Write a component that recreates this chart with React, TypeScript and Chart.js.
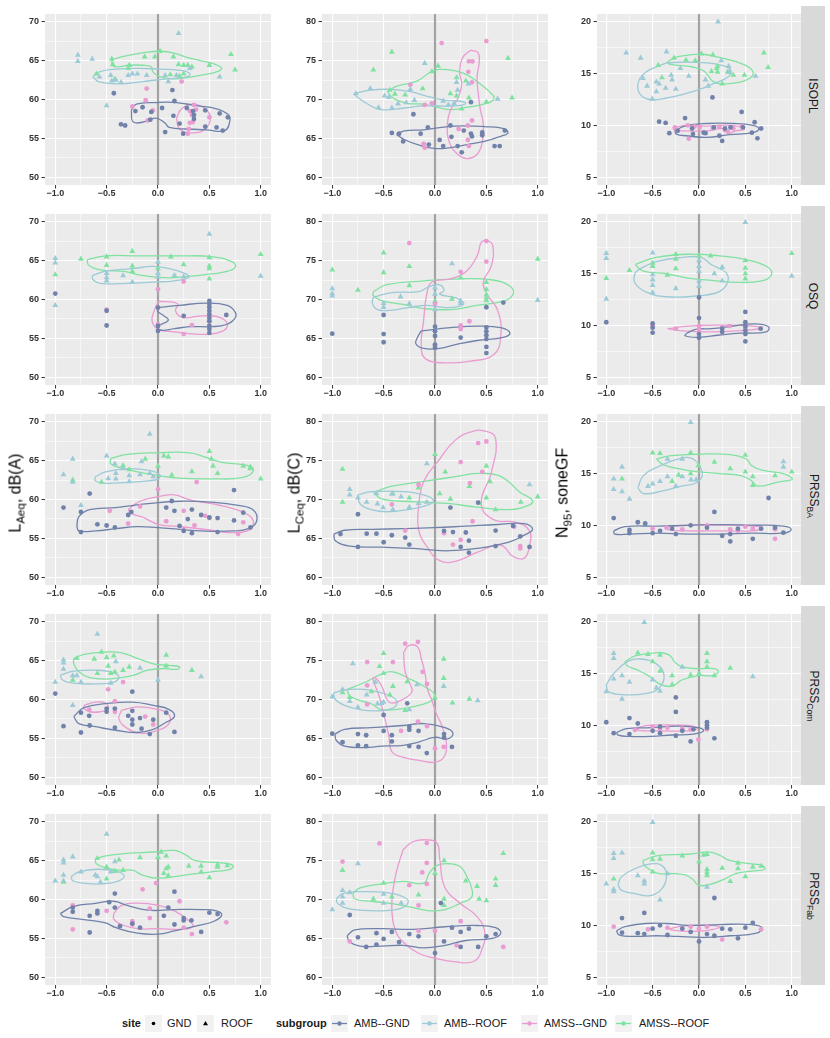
import { useEffect, useRef } from 'react';
import Chart from 'chart.js/auto';

type Pt = [number, number];

// legend / facet labels
const subgroups = ['AMB--GND', 'AMB--ROOF', 'AMSS--GND', 'AMSS--ROOF'];
const subgroupColors = ['#7182AA', '#9CCAD6', '#EA9BD1', '#80E2A1'];
const sites = ['GND', 'ROOF'];
const locations = [
  { base: 'ISOPL', sub: '' },
  { base: 'OSQ', sub: '' },
  { base: 'PRSS', sub: 'BA' },
  { base: 'PRSS', sub: 'Com' },
  { base: 'PRSS', sub: 'Fab' },
];
const measureTitles = [
  { base: 'L', sub: 'Aeq', rest: ', dB(A)' },
  { base: 'L', sub: 'Ceq', rest: ', dB(C)' },
  { base: 'N', sub: '95', rest: ', soneGF' },
];

// ticks and ranges
const xTicks = [-1, -0.75, -0.5, -0.25, 0, 0.25, 0.5, 0.75, 1];
const laTicks = [50, 52.5, 55, 57.5, 60, 62.5, 65, 67.5, 70];
const lcTicks = [60, 62.5, 65, 67.5, 70, 72.5, 75, 77.5, 80];
const nTicks = [5, 7.5, 10, 12.5, 15, 17.5, 20];
const yTickSets = [laTicks, lcTicks, nTicks];
const yRanges: Pt[] = [[49, 71], [59, 81], [4.25, 20.75]];
const xRange: Pt = [-1.1, 1.1];

// ---------- ISOPL ----------
// order in each panel: AMB--GND, AMB--ROOF, AMSS--GND, AMSS--ROOF
const isoplLaPts: Pt[][] = [
  [[-0.43,60.8],[-0.36,56.8],[-0.32,56.65],[-0.22,58.5],[-0.15,59.0],[-0.065,58.4],[-0.075,57.4],[0.04,58.9],[0.07,55.8],[0.14,61.2],[0.15,57.9],[0.16,59.8],[0.21,56.9],[0.245,55.6],[0.28,58.9],[0.34,58.5],[0.35,58.0],[0.35,57.5],[0.46,58.6],[0.46,56.5],[0.57,56.4],[0.6,58.2],[0.63,56.0],[0.68,57.7]],
  [[-0.78,65.7],[-0.78,64.9],[-0.64,65.2],[-0.57,62.9],[-0.5,59.2],[-0.46,63.1],[-0.45,62.4],[-0.41,62.5],[-0.36,62.2],[-0.29,63.1],[-0.25,63.3],[-0.2,63.3],[-0.11,63.1],[0.07,63.1],[0.1,62.3],[0.18,63.1],[0.2,68.5],[0.31,64.0],[0.6,62.9]],
  [[-0.25,59.1],[-0.11,61.4],[-0.12,59.9],[-0.1,57.3],[-0.05,58.6],[0.23,62.3],[0.31,58.5],[0.33,58.0],[0.35,59.3],[0.31,57.0],[0.3,56.2],[0.29,55.6],[0.34,57.1],[0.37,58.7],[0.5,57.7]],
  [[-0.6,63.3],[-0.45,65.2],[-0.44,64.5],[-0.42,62.6],[-0.29,64.0],[-0.28,64.4],[-0.13,65.5],[-0.03,65.5],[0.02,66.2],[0.12,63.2],[0.15,65.5],[0.2,64.5],[0.21,63.0],[0.25,63.3],[0.25,64.4],[0.29,64.4],[0.33,64.2],[0.5,64.4],[0.71,65.8],[0.75,63.8]],
];
const isoplLaRings: Pt[][][] = [
  [[[-0.26,58.6],[-0.21,59.4],[-0.02,59.6],[0.18,59.6],[0.37,59.2],[0.57,58.8],[0.68,58.1],[0.7,57.3],[0.65,56.0],[0.47,56.1],[0.28,56.2],[0.11,56.4],[0.065,57.0],[-0.02,57.6],[-0.11,57.2],[-0.24,57.1]]],
  [[[-0.635,62.9],[-0.57,63.55],[-0.41,63.9],[-0.18,64.0],[0.02,63.9],[0.21,63.75],[0.31,63.35],[0.28,62.9],[0.08,62.65],[-0.15,62.3],[-0.37,62.0],[-0.57,62.25]]],
  [[[0.18,57.6],[0.23,58.8],[0.34,59.4],[0.46,58.8],[0.51,57.6],[0.46,56.2],[0.34,55.7],[0.21,56.2]]],
  [[[-0.44,65.2],[-0.31,65.6],[-0.15,66.0],[0.02,66.2],[0.15,66.0],[0.28,65.4],[0.41,65.0],[0.54,64.6],[0.62,64.0],[0.57,63.55],[0.41,63.1],[0.28,62.8],[0.15,62.65],[0.02,62.9],[-0.05,63.55],[-0.065,64.2],[-0.15,64.4],[-0.28,64.4],[-0.41,64.2],[-0.45,64.6]]],
];
const isoplLcPts: Pt[][] = [
  [[-0.42,65.7],[-0.35,65.6],[-0.31,64.6],[-0.21,68.1],[-0.14,65.6],[-0.07,66.4],[-0.06,64.2],[0.045,64.8],[0.08,64.0],[0.15,66.65],[0.16,65.2],[0.22,64.0],[0.26,63.2],[0.28,66.0],[0.35,65.6],[0.36,65.25],[0.35,69.65],[0.46,65.75],[0.46,65.4],[0.58,64.0],[0.63,64.0],[0.68,66.0]],
  [[-0.77,70.76],[-0.63,71.4],[-0.55,68.95],[-0.49,70.47],[-0.45,70.27],[-0.42,68.9],[-0.36,69.45],[-0.28,69.6],[-0.24,71.3],[-0.2,69.9],[-0.1,74.66],[0.08,69.8],[0.13,69.3],[0.185,69.5],[0.21,72.2],[0.22,71.2],[0.325,72.0],[0.61,70.06]],
  [[0.065,77.25],[0.5,77.5],[0.33,74.9],[0.365,74.9],[0.325,73.55],[0.36,72.2],[-0.24,71.9],[-0.1,69.3],[-0.03,69.5],[0.36,67.3],[0.23,66.2],[0.32,66.65],[0.32,64.8],[0.33,64.0],[-0.11,64.3],[-0.1,63.8],[0.46,65.5]],
  [[-0.42,76.1],[-0.6,73.8],[-0.44,71.2],[-0.39,70.7],[-0.29,70.6],[-0.12,71.4],[-0.03,73.6],[0.03,74.3],[0.15,70.76],[0.21,72.8],[0.21,70.47],[0.26,68.8],[0.3,72.4],[0.33,70.2],[0.5,69.7],[0.71,75.3],[0.75,70.2]],
];
const isoplLcRings: Pt[][][] = [
  [[[-0.375,65.5],[-0.3,65.95],[-0.11,66.1],[0.09,66.45],[0.28,66.6],[0.48,66.5],[0.67,66.25],[0.71,65.7],[0.64,65.26],[0.48,64.6],[0.315,64.2],[0.15,63.8],[-0.01,63.7],[-0.17,64.2],[-0.3,64.85]]],
  [[[-0.79,70.76],[-0.63,71.2],[-0.43,71.3],[-0.24,71.0],[-0.075,70.4],[0.09,69.9],[0.23,69.8],[0.3,69.5],[0.23,69.2],[0.09,69.15],[-0.11,69.2],[-0.3,68.9],[-0.53,68.7],[-0.66,69.45],[-0.76,70.35]]],
  [[[0.35,76.35],[0.27,75.4],[0.24,73.55],[0.26,71.9],[0.22,70.06],[0.15,68.6],[0.12,66.8],[0.14,64.5],[0.22,62.95],[0.315,62.4],[0.41,62.95],[0.46,64.5],[0.47,66.8],[0.44,68.8],[0.42,70.9],[0.41,72.9],[0.43,74.8],[0.42,76.0]]],
  [[[-0.465,71.0],[-0.37,71.7],[-0.17,72.4],[-0.03,73.6],[0.12,73.84],[0.28,73.35],[0.43,72.1],[0.53,71.0],[0.575,70.1],[0.49,69.45],[0.315,69.0],[0.15,68.7],[0.02,69.0],[-0.11,69.4],[-0.27,69.5],[-0.4,70.1]]],
];
const isoplNPts: Pt[][] = [
  [[-0.43,10.36],[-0.36,10.24],[-0.32,9.25],[-0.23,9.47],[-0.15,10.7],[-0.065,9.16],[-0.075,9.7],[0.05,9.3],[0.07,9.25],[0.145,12.7],[0.16,9.8],[0.22,9.0],[0.25,8.5],[0.28,9.7],[0.34,9.8],[0.46,11.3],[0.475,9.8],[0.57,9.3],[0.6,10.3],[0.67,9.7],[0.63,8.75]],
  [[0.205,20.0],[-0.785,17.0],[-0.63,16.5],[-0.35,17.1],[-0.605,14.55],[-0.56,13.8],[-0.505,12.55],[-0.46,13.25],[-0.46,14.2],[-0.43,14.0],[-0.36,13.6],[-0.3,14.85],[-0.29,14.4],[-0.25,13.5],[-0.2,15.5],[-0.11,14.75],[0.07,14.4],[0.1,13.8],[0.24,16.25],[0.32,15.7],[0.33,15.15],[0.61,14.75]],
  [[-0.26,9.8],[-0.25,9.6],[-0.11,8.7],[-0.12,10.0],[-0.05,9.9],[0.007,9.8],[0.15,9.7],[0.22,9.85],[0.28,9.55],[0.31,9.4],[0.37,9.7],[0.46,9.9]],
  [[-0.44,15.8],[-0.4,14.6],[-0.27,16.5],[-0.14,16.3],[-0.04,16.25],[0.025,16.9],[0.135,15.2],[0.15,16.8],[0.19,15.5],[0.2,15.7],[0.2,15.15],[0.25,14.0],[0.31,15.15],[0.37,14.85],[0.49,14.85],[0.7,17.0],[0.745,15.6]],
];
const isoplNRings: Pt[][][] = [
  [[[-0.26,9.47],[-0.155,9.93],[0.08,10.18],[0.37,10.18],[0.58,10.0],[0.645,9.68],[0.58,9.31],[0.33,9.1],[0.08,8.85],[-0.14,9.0],[-0.245,9.16]]],
  [[[-0.35,16.03],[-0.14,16.1],[0.08,16.03],[0.22,15.84],[0.33,15.47],[0.34,14.95],[0.28,14.49],[0.15,14.0],[0.007,13.47],[-0.17,13.0],[-0.35,12.64],[-0.505,12.45],[-0.61,12.76],[-0.66,13.56],[-0.64,14.49],[-0.57,15.16],[-0.46,15.63]]],
  [[[-0.28,9.78],[-0.14,10.0],[0.08,9.93],[0.295,10.02],[0.44,9.87],[0.49,9.62],[0.4,9.47],[0.31,9.25],[0.26,9.68],[0.08,9.47],[-0.14,9.47],[-0.26,9.53]]],
  [[[-0.345,16.09],[-0.26,16.55],[-0.12,16.77],[0.04,16.86],[0.22,16.55],[0.4,16.15],[0.55,15.53],[0.58,14.86],[0.49,14.3],[0.35,14.06],[0.24,14.0],[0.15,14.24],[0.1,14.8],[0.04,15.32],[-0.065,15.63],[-0.21,15.78],[-0.32,15.9]]],
];

// ---------- OSQ ----------
const osqLaPts: Pt[][] = [
  [[-1,60.76],[-0.5,58.55],[-0.5,56.65],[0,58.95],[0,56.6],[0,55.95],[0.25,57.9],[0.5,59.8],[0.5,59.4],[0.5,59.0],[0.5,58.55],[0.5,58.1],[0.5,57.6],[0.5,57.2],[0.5,56.6],[0.5,56.2],[0.5,55.7],[0.665,58.0]],
  [[-1,65.28],[-1,64.7],[-1,59.24],[-0.5,62.8],[-0.5,62.4],[-0.5,63.35],[-0.34,63.06],[-0.25,62.24],[0,64.8],[0,63.35],[0,62.9],[0.16,63.1],[0.25,62.9],[0.5,68.4],[1,63.0]],
  [[-0.5,58.7],[0,61.3],[0,56.8],[0.25,62.3],[0.25,55.55],[0.33,56.7],[0.5,57.8],[0.5,57.2],[0.5,56.6]],
  [[-1,63.2],[-0.75,65.2],[-0.5,65.5],[-0.5,64.4],[-0.25,66.2],[-0.25,64.3],[-0.25,63.6],[0,63.96],[0.125,65.5],[0.25,64.5],[0.5,65.4],[0.5,64.3],[0.5,63.96],[0.5,62.65],[1,65.8]],
];
const osqLaRings: Pt[][][] = [
  [[[0.005,58.95],[0.21,59.24],[0.47,59.53],[0.675,59.24],[0.75,58.4],[0.75,57.6],[0.665,56.78],[0.52,56.5],[0.31,56.5],[0.16,56.24],[0.03,56.04],[-0.005,56.5],[0.1,57.3],[0.057,57.9],[-0.005,58.5]]],
  [[[-0.64,63.06],[-0.51,63.63],[-0.25,63.96],[-0.05,64.25],[0.11,63.96],[0.26,63.35],[0.3,62.85],[0.16,62.4],[-0.05,62.24],[-0.3,62.07],[-0.56,62.07],[-0.63,62.5]]],
  [[[0.005,59.77],[0.19,59.45],[0.17,58.54],[0.24,57.68],[0.44,57.9],[0.62,57.6],[0.675,56.5],[0.57,55.67],[0.37,55.55],[0.16,55.83],[0.005,56.16],[-0.057,57.18],[-0.036,58.6]]],
  [[[-0.69,65.1],[-0.51,65.6],[-0.2,65.6],[0.21,65.6],[0.52,65.5],[0.73,64.8],[0.75,64.1],[0.65,63.55],[0.42,63.14],[0.16,62.8],[0,62.85],[-0.175,63.14],[-0.33,63.6],[-0.56,63.8],[-0.675,64.4]]],
];
const osqLcPts: Pt[][] = [
  [[-1,65.6],[-0.5,68.0],[-0.5,65.55],[-0.5,64.5],[0,66.5],[0,65.9],[0,65.3],[0,64.2],[0,63.8],[0.25,65.1],[0.5,66.4],[0.5,65.9],[0.5,65.4],[0.5,64.9],[0.5,63.9],[0.5,63.1],[0.665,69.6],[0.5,69.0]],
  [[-1,71.4],[-1,70.76],[-1,70.47],[-0.5,69.5],[-0.5,69.0],[-0.25,69.45],[-0.335,70.35],[0,71.5],[0,70.7],[0,68.7],[0.165,74.6],[0.25,69.5],[0.25,69.8],[1,69.9]],
  [[-0.25,77.25],[0.5,77.5],[0.5,74.87],[0.25,73.55],[0.335,67.2],[0.25,66.65],[0.25,66.2],[0,69.45],[0,64.0]],
  [[-1,73.8],[-0.75,71.2],[-0.5,76.0],[-0.5,73.47],[-0.25,74.25],[-0.25,71.8],[0,69.77],[0.165,70.06],[0.25,72.8],[0.5,72.2],[0.5,71.3],[0.5,70.6],[0.5,70.2],[0.5,69.85],[1,75.2]],
];
const osqLcRings: Pt[][][] = [
  [[[-0.134,65.95],[0.15,66.37],[0.41,66.57],[0.64,66.37],[0.73,65.67],[0.665,65.13],[0.41,64.72],[0.2,64.19],[0.046,63.7],[-0.11,63.7],[-0.186,64.3],[-0.17,65.13]]],
  [[[-0.6,70.27],[-0.42,70.88],[-0.16,71.0],[-0.067,71.58],[0.036,71.9],[0.088,71.17],[0.046,70.68],[0.2,70.2],[0.28,69.5],[0.23,69.1],[0.1,68.95],[-0.08,69.24],[-0.26,68.95],[-0.44,68.6],[-0.56,68.7],[-0.61,69.5]]],
  [[[0.5,77.66],[0.56,77.04],[0.55,74.37],[0.47,72.24],[0.51,70.6],[0.61,68.6],[0.64,65.3],[0.57,62.9],[0.33,62.05],[0.1,61.85],[-0.08,62.26],[-0.134,63.7],[-0.11,67.4],[-0.08,70.68],[-0.03,72.24],[0.15,72.65],[0.3,73.55],[0.41,75.6],[0.45,77.33]]],
  [[[-0.6,71.0],[-0.47,71.9],[-0.11,72.4],[0.25,72.65],[0.56,72.5],[0.73,71.7],[0.76,70.68],[0.665,69.77],[0.41,69.24],[0.15,68.7],[-0.11,68.83],[-0.31,69.36],[-0.52,69.86],[-0.6,70.47]]],
];
const osqNPts: Pt[][] = [
  [[-1,10.3],[-0.5,10.18],[-0.5,9.78],[-0.5,9.3],[0,10.7],[0,12.7],[0,9.16],[0,8.8],[0.25,9.68],[0.25,9.37],[0.5,11.3],[0.5,10.3],[0.5,9.9],[0.5,9.5],[0.5,9.16],[0.5,8.45],[0.665,9.68]],
  [[-1,16.95],[-1,16.46],[-1,12.55],[-0.5,17.0],[-0.5,14.9],[-0.5,14.4],[-0.5,13.87],[-0.5,13.16],[-0.25,13.56],[0,16.25],[0,15.7],[0,15.2],[0,14.3],[0,13.8],[0.25,15.6],[0.166,15.0],[0.25,14.3],[0.5,19.94],[1,14.76]],
  [[-0.5,10.0],[-0.25,9.68],[0,9.93],[0,9.62],[0.33,9.93],[0.5,9.68],[0.25,9.8]],
  [[-1,14.55],[-0.75,15.3],[-0.5,16.0],[-0.5,15.7],[-0.34,14.85],[-0.25,16.86],[-0.25,16.4],[-0.25,15.47],[0,16.7],[0.125,16.7],[0.25,15.6],[0.5,16.25],[0.5,15.53],[0.5,15.0],[0.5,14.5],[1,16.95]],
];
const osqNRings: Pt[][][] = [
  [[[-0.13,9.25],[-0.034,9.62],[0.137,9.68],[0.366,9.93],[0.594,10.14],[0.75,9.87],[0.726,9.37],[0.45,9.25],[0.22,9.07],[-0.006,8.85],[-0.15,9.0]]],
  [[[-0.635,15.47],[-0.46,16.15],[-0.18,16.55],[0.023,16.55],[0.137,15.84],[0.29,15.1],[0.31,14.18],[0.22,13.26],[-0.006,12.86],[-0.35,12.76],[-0.58,13.26],[-0.69,14.09],[-0.69,15.0]]],
  [[[-0.34,9.68],[-0.12,9.93],[0.22,10.02],[0.566,9.96],[0.68,9.74],[0.45,9.5],[0.11,9.37],[-0.177,9.47]]],
  [[[-0.69,15.87],[-0.46,16.55],[-0.12,16.86],[0.22,16.7],[0.51,16.34],[0.74,15.63],[0.78,14.86],[0.68,14.3],[0.39,14.15],[0.11,14.36],[-0.12,14.55],[-0.35,14.98],[-0.6,15.23]]],
];

// ---------- PRSS BA ----------
const baLaPts: Pt[][] = [
  [[-0.92,58.95],[-0.75,58.4],[-0.75,55.8],[-0.665,60.76],[-0.59,56.8],[-0.5,56.65],[-0.42,56.4],[-0.29,58.0],[-0.26,58.4],[0.08,58.95],[0.134,59.8],[0.16,58.54],[0.21,56.6],[0.25,55.95],[0.29,57.48],[0.33,55.66],[0.33,58.7],[0.42,58.0],[0.5,57.68],[0.58,57.6],[0.58,55.8],[0.74,57.3],[0.74,61.2],[0.83,58.3],[0.9,56.4]],
  [[-0.92,63.2],[-0.83,65.2],[-0.83,62.24],[-0.75,59.24],[-0.5,65.6],[-0.485,62.7],[-0.42,64.58],[-0.41,63.35],[-0.41,62.65],[-0.34,63.96],[-0.28,63.06],[-0.28,62.3],[-0.175,63.2],[-0.16,64.87],[-0.08,68.4],[-0.08,63.35],[-0.046,62.94]],
  [[-0.47,58.55],[-0.29,56.9],[-0.175,59.1],[0,61.3],[0.08,57.2],[0.25,58.54],[0.25,56.16],[0.376,62.24],[0.355,56.65],[0.46,57.9],[0.5,57.6],[0.78,55.55],[0.83,57.06]],
  [[-0.83,62.5],[-0.55,62.24],[-0.34,64.37],[-0.28,63.84],[-0.124,65.2],[0,64.3],[0.057,65.6],[0.1,65.5],[0.134,63.14],[0.33,63.6],[0.5,66.2],[0.52,65.2],[0.536,64.3],[0.58,63.35],[0.83,64.3],[0.9,64.17],[0.9,63.96],[1,62.65]],
];
const baLaRings: Pt[][][] = [
  [[[-0.79,56.57],[-0.77,57.8],[-0.665,58.7],[-0.41,58.95],[-0.1,59.45],[0.21,59.77],[0.52,59.65],[0.78,59.24],[0.93,58.62],[0.96,57.2],[0.88,56.24],[0.73,55.95],[0.42,55.95],[0.21,56.16],[0,56.37],[-0.2,56.5],[-0.41,56.24],[-0.61,55.95],[-0.77,55.95]]],
  [[[-0.61,62.94],[-0.51,63.55],[-0.28,63.96],[-0.1,63.76],[0.015,63.22],[0.005,62.65],[-0.1,62.4],[-0.3,62.2],[-0.51,62.07],[-0.61,62.4]]],
  [[[-0.29,58.7],[-0.175,59.77],[0.005,60.35],[0.16,60.6],[0.31,59.94],[0.52,59.45],[0.73,58.83],[0.88,58.0],[0.93,56.98],[0.87,55.95],[0.675,55.75],[0.52,56.04],[0.31,56.37],[0.16,56.57],[0.005,56.78],[-0.15,57.72],[-0.26,58.2]]],
  [[[-0.46,65.28],[-0.3,65.8],[0.005,66.0],[0.31,66.0],[0.47,65.4],[0.62,64.78],[0.87,64.37],[0.93,63.76],[0.83,62.85],[0.52,62.65],[0.21,62.73],[0.005,63.06],[-0.2,63.55],[-0.355,64.05],[-0.46,64.58]]],
];
const baLcPts: Pt[][] = [
  [[-0.92,65.55],[-0.75,68.1],[-0.75,63.9],[-0.665,65.6],[-0.57,65.6],[-0.5,64.5],[-0.42,65.4],[-0.29,65.1],[-0.25,64.2],[0.088,65.95],[0.15,68.95],[0.175,65.8],[0.25,63.9],[0.3,65.75],[0.33,64.7],[0.33,63.15],[0.42,69.6],[0.59,66.0],[0.59,64.0],[0.76,66.6],[0.83,65.25],[0.92,63.9]],
  [[-0.83,71.3],[-0.83,70.6],[-0.75,70.2],[-0.665,69.65],[-0.57,70.76],[-0.56,69.45],[-0.505,68.95],[-0.42,70.68],[-0.41,68.7],[-0.33,70.35],[-0.25,69.0],[-0.16,69.5],[-0.08,74.6],[-0.08,69.65],[0.92,71.9]],
  [[-0.42,69.36],[-0.29,66.0],[-0.16,71.9],[0.088,65.67],[0.175,64.2],[0.25,64.8],[0.25,74.8],[0.34,72.1],[0.366,67.2],[0.42,77.25],[0.46,73.55],[0.5,77.45],[0.77,66.5],[0.83,64.0],[0.83,63.7]],
  [[-0.9,73.9],[-0.9,69.65],[-0.41,70.76],[-0.25,70.2],[-0.16,71.5],[0,75.8],[0.046,70.76],[0.1,73.55],[0.15,70.06],[0.335,71.7],[0.43,69.5],[0.5,74.3],[0.5,70.2],[0.536,72.3],[0.59,68.7],[0.835,69.65],[1,70.35]],
];
const baLcRings: Pt[][][] = [
  [[[-0.985,65.55],[-0.88,66.04],[-0.62,66.16],[-0.31,66.24],[-0.005,66.37],[0.3,66.57],[0.61,66.78],[0.87,66.9],[0.95,66.16],[0.87,65.42],[0.72,64.52],[0.41,63.7],[0.1,63.4],[-0.21,63.7],[-0.52,63.86],[-0.83,64.0],[-0.97,64.7]]],
  [[[-0.75,70.6],[-0.62,71.0],[-0.31,71.0],[-0.08,70.47],[-0.015,69.77],[-0.08,69.24],[-0.26,68.7],[-0.47,68.42],[-0.62,68.7],[-0.73,69.45]]],
  [[[-0.16,69.45],[-0.11,72.32],[0.046,75.2],[0.2,77.66],[0.356,78.7],[0.485,78.8],[0.59,77.86],[0.55,73.55],[0.45,69.45],[0.57,67.4],[0.79,67.06],[0.92,65.95],[0.92,64.1],[0.87,62.46],[0.76,62.67],[0.64,64.1],[0.41,63.2],[0.2,62.05],[0.046,62.14],[-0.067,63.7],[-0.16,66.16]]],
  [[[-0.6,70.9],[-0.42,71.7],[-0.11,72.32],[0.2,72.94],[0.41,73.35],[0.61,73.14],[0.72,72.24],[0.82,71.0],[0.95,69.86],[0.91,69.24],[0.72,68.7],[0.41,69.0],[0.15,69.45],[-0.11,69.65],[-0.31,69.77],[-0.52,70.06]]],
];
const baNPts: Pt[][] = [
  [[-0.92,10.7],[-0.75,9.56],[-0.75,9.25],[-0.66,10.3],[-0.58,10.18],[-0.5,9.25],[-0.42,9.47],[-0.29,9.68],[-0.25,9.16],[-0.09,10.0],[0.086,9.78],[0.166,11.3],[0.25,9.0],[0.337,9.16],[0.337,8.45],[0.42,9.68],[0.58,8.7],[0.67,9.68],[0.75,12.64],[0.82,9.78],[0.91,9.3]],
  [[-0.92,14.49],[-0.92,13.47],[-0.83,15.63],[-0.83,13.26],[-0.75,12.55],[-0.55,13.78],[-0.5,14.0],[-0.42,14.25],[-0.34,14.7],[-0.34,16.4],[-0.25,13.78],[-0.18,16.4],[-0.18,14.7],[-0.09,19.94],[-0.086,14.4],[-0.03,14.4],[0.91,16.15],[0.91,15.63]],
  [[-0.5,9.68],[-0.35,9.78],[-0.18,9.62],[0.086,10.0],[0.337,9.62],[0.42,9.47],[0.5,9.87],[0.58,9.68],[0.82,9.62],[0.82,8.7]],
  [[-0.83,14.49],[-0.5,17.0],[-0.42,16.95],[-0.29,14.25],[-0.22,14.86],[-0.09,17.0],[-0.09,15.0],[-0.006,15.78],[0.166,16.1],[0.337,15.47],[0.5,16.77],[0.5,15.16],[0.58,14.7],[0.58,13.87],[0.82,14.8],[1,15.16]],
];
const baNRings: Pt[][][] = [
  [[[-0.92,9.47],[-0.8,9.87],[-0.46,9.93],[-0.12,10.0],[0.22,10.08],[0.566,10.02],[0.91,9.93],[0.995,9.6],[0.91,9.25],[0.566,9.25],[0.22,9.16],[-0.12,9.16],[-0.46,9.25],[-0.75,9.16],[-0.91,9.16]]],
  [[[-0.66,13.62],[-0.6,14.8],[-0.43,15.7],[-0.23,16.4],[-0.09,16.5],[0.006,15.72],[0.034,14.8],[-0.034,14.09],[-0.19,13.78],[-0.4,13.3],[-0.6,13.07]]],
  [[[-0.35,9.87],[-0.12,10.02],[0.22,10.02],[0.566,9.96],[0.68,9.71],[0.566,9.47],[0.22,9.47],[-0.12,9.47],[-0.34,9.59]]],
  [[[-0.46,16.4],[-0.32,16.7],[-0.006,16.86],[0.337,16.83],[0.51,16.4],[0.566,15.78],[0.68,15.32],[0.91,15.0],[1,14.6],[1,14.4],[0.85,14.18],[0.634,13.78],[0.566,14.3],[0.45,14.8],[0.22,15.0],[-0.006,15.16],[-0.18,15.4],[-0.38,15.84]]],
];

// ---------- PRSS Com ----------
const comLaPts: Pt[][] = [
  [[-1,60.76],[-0.92,56.57],[-0.75,58.3],[-0.75,55.75],[-0.67,57.9],[-0.665,56.65],[-0.5,58.83],[-0.5,58.42],[-0.42,58.83],[-0.42,56.37],[-0.29,57.9],[-0.25,61.0],[-0.25,58.54],[-0.25,57.4],[-0.25,56.78],[-0.175,57.6],[-0.16,56.24],[-0.08,55.55],[-0.046,57.4],[0.08,58.3],[0.16,55.83]],
  [[-1,62.24],[-0.92,65.1],[-0.92,64.7],[-0.92,63.9],[-0.83,63.06],[-0.79,63.06],[-0.75,62.24],[-0.83,59.24],[-0.59,68.4],[-0.46,62.1],[-0.41,64.87],[-0.175,64.05],[0,62.5],[0.42,62.94]],
  [[-0.67,58.7],[-0.485,61.3],[-0.42,59.77],[-0.42,58.42],[-0.34,62.24],[-0.124,57.8],[-0.046,56.78]],
  [[-0.83,62.5],[-0.79,65.28],[-0.62,65.2],[-0.55,66.1],[-0.59,63.35],[-0.5,65.4],[-0.485,64.3],[-0.46,63.35],[-0.43,65.6],[-0.42,63.55],[-0.34,63.76],[-0.28,64.17],[0.08,65.7],[0.08,64.3],[0.33,63.76]],
];
const comLaRings: Pt[][][] = [
  [[[-0.82,57.8],[-0.72,58.95],[-0.51,59.45],[-0.25,59.65],[-0.046,59.24],[0.11,58.7],[0.16,57.8],[0.067,56.98],[-0.046,56.16],[-0.2,55.75],[-0.41,56.04],[-0.61,56.5],[-0.77,56.9]]],
  [[[-0.95,63.14],[-0.82,63.63],[-0.61,63.76],[-0.46,63.55],[-0.38,62.94],[-0.43,62.24],[-0.61,62.0],[-0.82,62.1],[-0.93,62.5]]],
  [
    [[-0.72,59.24],[-0.61,59.65],[-0.51,59.53],[-0.485,58.83],[-0.56,58.42],[-0.665,58.42],[-0.72,58.83]],
    [[-0.355,58.62],[-0.2,59.04],[0.005,58.7],[0.11,58.0],[0.1,56.78],[-0.02,55.95],[-0.175,55.67],[-0.3,56.28],[-0.38,57.5]],
  ],
  [[[-0.82,65.28],[-0.72,65.8],[-0.51,66.1],[-0.355,66.0],[-0.2,65.28],[-0.046,64.58],[0.11,64.37],[0.21,64.2],[0.186,63.88],[0.057,63.96],[-0.1,63.76],[-0.25,63.06],[-0.46,62.65],[-0.665,62.81],[-0.77,63.55],[-0.82,64.58]]],
];
const comLcPts: Pt[][] = [
  [[-1,65.6],[-0.9,64.5],[-0.75,65.55],[-0.75,64.1],[-0.67,65.4],[-0.67,64.0],[-0.5,65.95],[-0.5,68.0],[-0.42,65.4],[-0.42,64.6],[-0.27,69.5],[-0.25,66.5],[-0.25,66.1],[-0.25,64.0],[-0.16,65.95],[-0.16,63.9],[-0.08,63.1],[0.088,65.55],[0.088,65.1],[0.165,63.9]],
  [[-1,70.35],[-0.9,71.3],[-0.83,69.77],[-0.8,74.6],[-0.75,69.0],[-0.665,70.6],[-0.58,72.24],[-0.56,69.45],[-0.52,69.5],[-0.5,69.65],[-0.25,68.7],[-0.175,71.9],[0.085,71.7],[0.416,69.86]],
  [[-0.29,77.17],[-0.166,77.4],[-0.66,74.8],[-0.41,74.8],[-0.12,73.55],[-0.078,72.0],[-0.66,71.8],[-0.66,69.36],[-0.33,65.95],[-0.166,67.15],[-0.078,66.57],[0.085,63.9],[0,63.7]],
  [[-0.5,75.93],[-0.54,74.25],[-0.5,73.35],[0.085,75.2],[0.085,72.73],[-0.27,72.3],[-0.41,71.7],[-0.62,71.0],[-0.83,70.27],[-0.9,70.9],[-0.44,70.6],[-0.29,68.6],[0,70.2],[0.17,69.57],[0.335,70.06]],
];
const comLcRings: Pt[][][] = [
  [[[-0.974,65.55],[-0.88,66.16],[-0.62,66.37],[-0.31,66.65],[-0.108,66.9],[0.098,66.37],[0.175,65.67],[0.124,64.93],[-0.005,65.13],[-0.16,64.52],[-0.31,64.1],[-0.52,64.0],[-0.675,63.82],[-0.88,64.0],[-0.96,64.72]]],
  [[[-0.985,70.88],[-0.83,71.3],[-0.62,71.17],[-0.42,70.35],[-0.37,69.57],[-0.42,68.83],[-0.57,68.54],[-0.73,68.7],[-0.88,69.24],[-0.974,70.06]]],
  [[[-0.306,76.02],[-0.29,73.55],[-0.24,71.9],[-0.224,71.0],[-0.306,70.06],[-0.42,69.53],[-0.47,70.06],[-0.517,71.7],[-0.58,72.8],[-0.605,72.65],[-0.55,70.68],[-0.5,68.2],[-0.45,65.34],[-0.42,63.28],[-0.306,62.55],[-0.143,62.14],[0.003,61.93],[0.09,62.67],[0.11,64.52],[0.068,66.57],[0.013,68.2],[-0.03,69.86],[-0.078,71.5],[-0.094,73.14],[-0.133,75.2],[-0.17,76.76],[-0.257,76.92]]],
  [[[-0.856,71.3],[-0.675,72.24],[-0.52,73.26],[-0.41,73.55],[-0.26,72.73],[-0.108,71.7],[-0.005,70.68],[-0.03,69.86],[-0.16,69.24],[-0.31,68.83],[-0.52,68.7],[-0.62,69.45],[-0.73,69.86],[-0.83,70.47]]],
];
const comNPts: Pt[][] = [
  [[-1,10.3],[-0.92,9.25],[-0.75,10.7],[-0.75,9.16],[-0.66,10.18],[-0.5,9.47],[-0.42,9.87],[-0.42,9.25],[-0.25,12.7],[-0.25,11.3],[-0.25,9.0],[-0.18,9.47],[-0.09,8.45],[-0.06,9.62],[0.086,10.3],[0.086,10.0],[0.086,9.78],[0.166,8.75]],
  [[-1,13.26],[-0.92,16.95],[-0.92,16.46],[-0.92,14.49],[-0.83,14.8],[-0.83,12.55],[-0.75,14.18],[-0.59,19.94],[-0.5,14.4],[-0.46,13.62],[-0.42,13.3],[-0.18,15.63],[0.58,14.7]],
  [[-0.69,9.56],[-0.5,9.87],[-0.42,9.68],[-0.34,9.78],[-0.18,9.68],[-0.09,9.62],[-0.006,8.63],[0.086,9.62]],
  [[-0.66,17.0],[-0.55,16.86],[-0.5,16.15],[-0.42,16.77],[-0.42,15.23],[-0.29,14.8],[-0.29,13.93],[-0.09,14.86],[0.086,16.95],[0.086,16.15],[0.086,15.63],[0.166,14.8],[0.337,15.53],[0,15.0]],
];
const comNRings: Pt[][][] = [
  [[[-0.89,9.31],[-0.78,9.68],[-0.52,9.78],[-0.234,9.93],[-0.006,9.78],[0.05,9.47],[-0.06,9.16],[-0.29,9.07],[-0.52,8.94],[-0.75,8.94],[-0.874,9.07]]],
  [[[-1,13.93],[-0.92,15.0],[-0.78,16.1],[-0.635,16.4],[-0.46,15.93],[-0.377,14.86],[-0.43,13.62],[-0.577,13.07],[-0.8,12.95],[-0.977,13.26]]],
  [[[-0.69,9.68],[-0.55,10.0],[-0.234,10.02],[-0.06,9.93],[-0.017,9.68],[-0.12,9.47],[-0.4,9.47],[-0.634,9.5]]],
  [[[-0.8,16.1],[-0.69,16.7],[-0.46,17.0],[-0.32,16.77],[-0.26,16.1],[-0.18,15.63],[-0.006,15.47],[0.166,15.47],[0.21,15.16],[0.137,14.8],[-0.006,14.8],[-0.18,14.4],[-0.29,13.78],[-0.41,13.93],[-0.53,14.7],[-0.66,15.32],[-0.77,15.72]]],
];

// ---------- PRSS Fab ----------
const fabLaPts: Pt[][] = [
  [[-0.83,58.95],[-0.83,58.42],[-0.665,57.9],[-0.665,55.75],[-0.59,58.54],[-0.59,58.2],[-0.475,59.65],[-0.42,60.76],[-0.42,58.95],[-0.37,56.57],[-0.25,56.9],[-0.175,56.37],[0.057,57.9],[0.1,58.95],[0.16,61.0],[0.16,56.78],[0.25,57.6],[0.25,57.3],[0.325,57.3],[0.42,55.83],[0.5,58.3],[0.58,58.13]],
  [[-1,62.4],[-0.92,65.1],[-0.92,64.7],[-0.92,63.14],[-0.92,62.4],[-0.83,65.5],[-0.75,63.55],[-0.61,63.14],[-0.59,62.94],[-0.56,62.24],[-0.5,68.4],[-0.46,63.55],[-0.42,64.87]],
  [[-0.83,59.24],[-0.83,56.16],[-0.5,58.54],[-0.15,61.3],[-0.08,58.83],[-0.08,57.6],[-0.25,57.2],[-0.25,56.78],[-0.02,62.1],[0.21,59.77],[0.25,56.37],[0.33,55.55],[0.665,57.06]],
  [[-0.92,62.24],[-0.59,65.28],[-0.5,64.17],[-0.5,62.65],[-0.42,63.63],[-0.38,65.1],[-0.34,63.76],[-0.175,65.4],[0,65.4],[0.03,66.1],[0.08,65.6],[0.057,63.35],[0.08,63.96],[0.1,63.06],[0.1,64.17],[0.3,64.3],[0.42,64.3],[0.42,63.55],[0.5,62.8],[0.58,64.46],[0.58,64.17],[0.675,64.37]],
];
const fabLaRings: Pt[][][] = [
  [[[-0.95,58.2],[-0.82,59.1],[-0.61,59.5],[-0.43,59.77],[-0.3,59.24],[-0.1,58.62],[0.16,58.7],[0.42,58.7],[0.57,58.54],[0.62,58.0],[0.546,57.2],[0.366,56.57],[0.16,55.95],[0,55.54],[-0.2,55.67],[-0.41,56.37],[-0.51,56.98],[-0.72,57.4],[-0.92,57.8]]],
  [[[-0.845,62.94],[-0.77,63.55],[-0.59,63.88],[-0.41,63.63],[-0.33,63.06],[-0.38,62.4],[-0.56,62.0],[-0.72,62.1],[-0.83,62.4]]],
  [[[-0.43,58.2],[-0.355,59.24],[-0.2,59.53],[0.005,59.24],[0.16,58.54],[0.29,57.4],[0.34,56.5],[0.21,56.16],[0.005,56.24],[-0.2,56.24],[-0.355,56.78],[-0.43,57.47]]],
  [[[-0.61,65.2],[-0.51,65.6],[-0.3,65.93],[-0.046,66.1],[0.16,66.3],[0.26,65.8],[0.366,64.99],[0.62,64.7],[0.73,64.37],[0.7,63.88],[0.52,63.55],[0.26,63.14],[0.005,62.73],[-0.15,63.14],[-0.25,63.76],[-0.38,63.76],[-0.51,64.05],[-0.6,64.58]]],
];
const fabLcPts: Pt[][] = [
  [[-0.83,68.0],[-0.75,65.13],[-0.67,63.9],[-0.57,65.67],[-0.57,64.2],[-0.5,64.93],[-0.42,65.83],[-0.35,64.52],[-0.25,65.55],[-0.16,65.26],[0,63.1],[0.057,69.53],[0.088,64.6],[0.165,66.37],[0.25,65.83],[0.25,63.9],[0.33,66.24],[0.42,63.9],[0.5,65.26],[0.59,65.55]],
  [[-1,68.7],[-0.9,71.17],[-0.9,70.35],[-0.9,69.53],[-0.83,70.9],[-0.75,74.6],[-0.5,70.68],[-0.5,69.53],[-0.33,69.53]],
  [[-0.54,77.2],[-0.9,74.87],[-0.25,71.83],[-0.16,69.24],[-0.124,73.47],[-0.08,74.7],[-0.08,72.0],[-0.08,77.25],[-0.83,64.6],[-0.16,65.95],[0,65.95],[0.21,64.1],[0.25,67.2],[0.665,63.9]],
  [[-0.9,73.76],[-0.6,70.06],[-0.5,72.1],[-0.42,70.35],[-0.16,70.6],[0,73.35],[0.088,75.0],[0.088,70.06],[0.088,69.24],[0.3,72.4],[0.41,71.7],[0.43,70.06],[0.5,69.86],[0.59,72.65],[0.59,71.83],[0.665,75.93]],
];
const fabLcRings: Pt[][][] = [
  [[[-0.856,65.34],[-0.78,66.08],[-0.52,66.24],[-0.21,66.16],[0.098,66.49],[0.41,66.65],[0.59,66.37],[0.64,65.67],[0.56,65.0],[0.3,64.72],[0.098,64.1],[-0.108,63.78],[-0.31,64.1],[-0.52,64.0],[-0.73,64.0],[-0.83,64.52]]],
  [[[-0.96,70.06],[-0.9,70.76],[-0.73,71.0],[-0.47,70.88],[-0.31,70.35],[-0.26,69.65],[-0.34,68.83],[-0.52,68.54],[-0.73,68.62],[-0.88,68.95],[-0.95,69.53]]],
  [[[-0.31,76.43],[-0.21,77.45],[-0.08,77.66],[0.02,77.25],[0.046,75.2],[0.098,71.5],[0.25,69.45],[0.41,67.8],[0.485,65.75],[0.46,63.7],[0.38,62.05],[0.2,61.97],[-0.005,62.46],[-0.16,63.08],[-0.31,64.52],[-0.39,66.16],[-0.42,68.62],[-0.41,71.1],[-0.376,73.55]]],
  [[[-0.8,70.76],[-0.73,71.5],[-0.52,72.0],[-0.31,72.32],[-0.108,72.1],[-0.057,73.35],[0.02,74.37],[0.15,74.58],[0.25,74.17],[0.31,72.94],[0.356,71.5],[0.356,70.27],[0.25,69.53],[0.098,68.7],[-0.057,68.54],[-0.21,68.95],[-0.42,69.45],[-0.62,69.77],[-0.78,70.06]]],
];
const fabNPts: Pt[][] = [
  [[-0.83,10.7],[-0.83,9.3],[-0.66,9.25],[-0.59,11.2],[-0.59,9.16],[-0.5,9.68],[-0.42,10.0],[-0.34,9.07],[-0.18,9.68],[-0.09,9.37],[0,8.45],[0.086,9.16],[0.166,12.64],[0.166,9.0],[0.25,9.68],[0.337,9.62],[0.42,8.75],[0.5,9.78],[0.58,10.24]],
  [[-1,14.0],[-0.92,16.95],[-0.92,16.46],[-0.92,13.47],[-0.92,13.26],[-0.83,17.0],[-0.66,14.8],[-0.59,14.3],[-0.59,14.0],[-0.5,19.94],[-0.42,12.46],[-0.34,15.0],[0.086,13.7]],
  [[-0.92,9.87],[-0.55,9.62],[-0.34,9.78],[-0.09,9.87],[0,9.68],[0.086,9.87],[0.25,8.63],[0.67,9.62]],
  [[-0.92,14.49],[-0.5,17.0],[-0.5,16.34],[-0.5,15.16],[-0.42,16.4],[-0.18,16.7],[0,16.15],[0.05,16.77],[0.086,16.86],[0.086,15.4],[0.086,15.1],[0.086,14.8],[0.25,15.53],[0.337,14.25],[0.42,16.0],[0.42,15.47],[0.5,14.7],[0.58,15.63],[0.67,15.72]],
];
const fabNRings: Pt[][][] = [
  [[[-0.89,9.47],[-0.8,9.87],[-0.577,10.18],[-0.35,10.18],[-0.12,10.0],[0.22,10.08],[0.566,10.08],[0.68,9.78],[0.62,9.25],[0.337,9.0],[0.05,8.85],[-0.234,8.94],[-0.46,9.0],[-0.69,8.94],[-0.86,9.07]]],
  [[[-0.874,13.93],[-0.834,14.7],[-0.69,15.47],[-0.52,15.93],[-0.394,15.72],[-0.35,14.7],[-0.406,13.47],[-0.53,12.86],[-0.69,13.07],[-0.834,13.38]]],
  [[[-0.32,9.68],[-0.18,9.93],[0.05,10.02],[0.22,9.87],[0.154,9.62],[-0.006,9.44],[-0.18,9.44],[-0.3,9.56]]],
  [[[-0.606,16.24],[-0.46,16.7],[-0.12,16.86],[0.11,17.07],[0.22,16.77],[0.337,16.24],[0.566,15.93],[0.68,15.78],[0.71,15.41],[0.566,15.23],[0.394,15.0],[0.28,14.49],[0.11,13.93],[-0.006,13.87],[-0.063,14.4],[-0.15,14.86],[-0.29,15.0],[-0.434,15.0],[-0.52,15.32],[-0.59,15.78]]],
];

const panelPts = [
  [isoplLaPts, isoplLcPts, isoplNPts],
  [osqLaPts, osqLcPts, osqNPts],
  [baLaPts, baLcPts, baNPts],
  [comLaPts, comLcPts, comNPts],
  [fabLaPts, fabLcPts, fabNPts],
];
const panelRings = [
  [isoplLaRings, isoplLcRings, isoplNRings],
  [osqLaRings, osqLcRings, osqNRings],
  [baLaRings, baLcRings, baNRings],
  [comLaRings, comLcRings, comNRings],
  [fabLaRings, fabLcRings, fabNRings],
];

// layout (px)
const COL_LEFT = [45, 322, 597];
const COL_W = [226, 226, 204];
const ROW_TOP = 6;
const ROW_STEP = 200;
const PANEL_H = 179;
const AXIS_W = 34;
const AXIS_H = 16;
const FONT = '"Liberation Sans", Arial, Helvetica, sans-serif';

const near = (a: number, b: number) => Math.abs(a - b) < 1e-6;
const isMajorX = (v: number) => near(v * 2, Math.round(v * 2));
const isMajorY = (v: number) => near(v / 5, Math.round(v / 5));

const panelBg = {
  id: 'panelBg',
  beforeDraw(chart: any) {
    const { ctx, chartArea: a } = chart;
    ctx.save();
    ctx.fillStyle = '#EBEBEB';
    ctx.fillRect(a.left, a.top, a.right - a.left, a.bottom - a.top);
    ctx.restore();
  },
};

function Panel({ row, col }: { row: number; col: number }) {
  const canvasRef = useRef<HTMLCanvasElement>(null);
  const chartRef = useRef<Chart | null>(null);

  useEffect(() => {
    if (!canvasRef.current) return;
    if (chartRef.current) chartRef.current.destroy();

    const [yMin, yMax] = yRanges[col];
    const yTicks = yTickSets[col];
    const datasets: any[] = [];

    // density contours
    panelRings[row][col].forEach((rings, g) => {
      rings.forEach((ring) => {
        datasets.push({
          data: [...ring, ring[0]].map(([x, y]) => ({ x, y })),
          showLine: true,
          borderColor: subgroupColors[g],
          borderWidth: 1.3,
          pointRadius: 0,
          tension: 0.45,
          fill: false,
          order: 1,
        });
      });
    });

    // points: GND = circle, ROOF = triangle
    panelPts[row][col].forEach((pts, g) => {
      const roof = g % 2 === 1;
      datasets.push({
        data: pts.map(([x, y]) => ({ x, y })),
        showLine: false,
        pointStyle: roof ? 'triangle' : 'circle',
        pointRadius: roof ? 3.4 : 2.4,
        backgroundColor: subgroupColors[g],
        borderWidth: 0,
        pointBorderWidth: 0,
        order: 0,
      });
    });

    // reference line at x = 0
    datasets.push({
      data: [{ x: 0, y: yMin }, { x: 0, y: yMax }],
      showLine: true,
      borderColor: '#A3A3A3',
      borderWidth: 2.2,
      pointRadius: 0,
      order: 2,
    });

    const tickFont = { family: FONT, size: 9, weight: 'bold' as const };

    chartRef.current = new Chart(canvasRef.current, {
      type: 'scatter',
      data: { datasets },
      options: {
        animation: false,
        responsive: false,
        events: [],
        layout: { padding: 0, autoPadding: false },
        plugins: { legend: { display: false }, tooltip: { enabled: false } },
        scales: {
          x: {
            type: 'linear',
            min: xRange[0],
            max: xRange[1],
            afterBuildTicks: (s: any) => { s.ticks = xTicks.map((value) => ({ value })); },
            afterFit: (s: any) => { s.height = AXIS_H; },
            border: { display: false },
            grid: {
              color: '#FFFFFF',
              lineWidth: (c: any) => (c.tick && isMajorX(c.tick.value) ? 1.1 : 0.55),
              tickColor: (c: any) => (c.tick && isMajorX(c.tick.value) ? '#333333' : 'rgba(0,0,0,0)'),
              tickWidth: 1,
              tickLength: 3.5,
            },
            ticks: {
              autoSkip: false,
              maxRotation: 0,
              minRotation: 0,
              padding: 0,
              color: '#333333',
              font: tickFont,
              callback: (v: any) => (isMajorX(v) ? (v < 0 ? '\u2212' : '') + Math.abs(v).toFixed(1) : ''),
            },
          },
          y: {
            type: 'linear',
            min: yMin,
            max: yMax,
            afterBuildTicks: (s: any) => { s.ticks = yTicks.map((value) => ({ value })); },
            afterFit: (s: any) => { s.width = AXIS_W; },
            border: { display: false },
            grid: {
              color: '#FFFFFF',
              lineWidth: (c: any) => (c.tick && isMajorY(c.tick.value) ? 1.1 : 0.55),
              tickColor: (c: any) => (c.tick && isMajorY(c.tick.value) ? '#333333' : 'rgba(0,0,0,0)'),
              tickWidth: 1,
              tickLength: 3.5,
            },
            ticks: {
              autoSkip: false,
              padding: 2.5,
              color: '#333333',
              font: tickFont,
              callback: (v: any) => (isMajorY(v) ? String(v) : ''),
            },
          },
        },
      },
      plugins: [panelBg],
    });

    return () => {
      if (chartRef.current) {
        chartRef.current.destroy();
        chartRef.current = null;
      }
    };
  }, [row, col]);

  return (
    <canvas
      ref={canvasRef}
      width={AXIS_W + COL_W[col]}
      height={PANEL_H + AXIS_H}
      style={{ position: 'absolute', left: COL_LEFT[col] - AXIS_W, top: ROW_TOP + row * ROW_STEP }}
    />
  );
}

const subStyle = { fontSize: '0.72em', position: 'relative' as const, top: '0.32em' };

function LegendBox({ left, children }: { left: number; children: any }) {
  return (
    <svg width={17} height={17} style={{ position: 'absolute', left, top: 1015, background: '#F2F2F2' }}>
      {children}
    </svg>
  );
}

function LegendText({ left, text, bold }: { left: number; text: string; bold?: boolean }) {
  return (
    <div style={{ position: 'absolute', left, top: 1016, fontSize: 11, lineHeight: '15px', fontWeight: bold ? 'bold' : 'normal', color: '#1A1A1A', whiteSpace: 'nowrap' }}>
      {text}
    </div>
  );
}

export default function App() {
  const titleX = [16, 295, 563];
  const siteKeyX = [145, 197];
  const siteTextX = [167, 221];
  const groupKeyX = [331, 421, 521, 615];
  const groupTextX = [354, 444, 544, 639];

  return (
    <div style={{ position: 'absolute', left: 0, top: 0, width: 830, height: 1038, background: '#FFFFFF', fontFamily: FONT, overflow: 'hidden' }}>
      {locations.map((_, r) => [0, 1, 2].map((c) => <Panel key={`${r}-${c}`} row={r} col={c} />))}

      {locations.map((loc, r) => (
        <div key={loc.base + loc.sub} style={{ position: 'absolute', left: 801, top: ROW_TOP + r * ROW_STEP, width: 24, height: PANEL_H, background: '#D9D9D9' }}>
          <div style={{ position: 'absolute', left: '50%', top: '50%', transform: 'translate(-50%, -50%) rotate(90deg)', fontSize: 12, color: '#1A1A1A', whiteSpace: 'nowrap', lineHeight: '14px' }}>
            {loc.base}
            {loc.sub && <span style={subStyle}>{loc.sub}</span>}
          </div>
        </div>
      ))}

      {measureTitles.map((t, c) => (
        <div key={t.sub} style={{ position: 'absolute', left: titleX[c], top: 493, transform: 'translate(-50%, -50%) rotate(-90deg)', fontSize: 16, color: '#000000', whiteSpace: 'nowrap', lineHeight: '18px' }}>
          {t.base}
          <span style={subStyle}>{t.sub}</span>
          {t.rest}
        </div>
      ))}

      <LegendText left={122} text="site" bold />
      {sites.map((s, i) => (
        <LegendBox key={s} left={siteKeyX[i]}>
          {i === 0 ? <circle cx={8.5} cy={8.5} r={1.8} fill="#000" /> : <polygon points="8.5,6 11,10.3 6,10.3" fill="#000" />}
        </LegendBox>
      ))}
      {sites.map((s, i) => <LegendText key={s} left={siteTextX[i]} text={s} />)}

      <LegendText left={276} text="subgroup" bold />
      {subgroups.map((g, i) => (
        <LegendBox key={g} left={groupKeyX[i]}>
          <line x1={1} y1={8.5} x2={16} y2={8.5} stroke={subgroupColors[i]} strokeWidth={1.3} />
          <circle cx={8.5} cy={8.5} r={2.2} fill={subgroupColors[i]} />
        </LegendBox>
      ))}
      {subgroups.map((g, i) => <LegendText key={g} left={groupTextX[i]} text={g} />)}
    </div>
  );
}
